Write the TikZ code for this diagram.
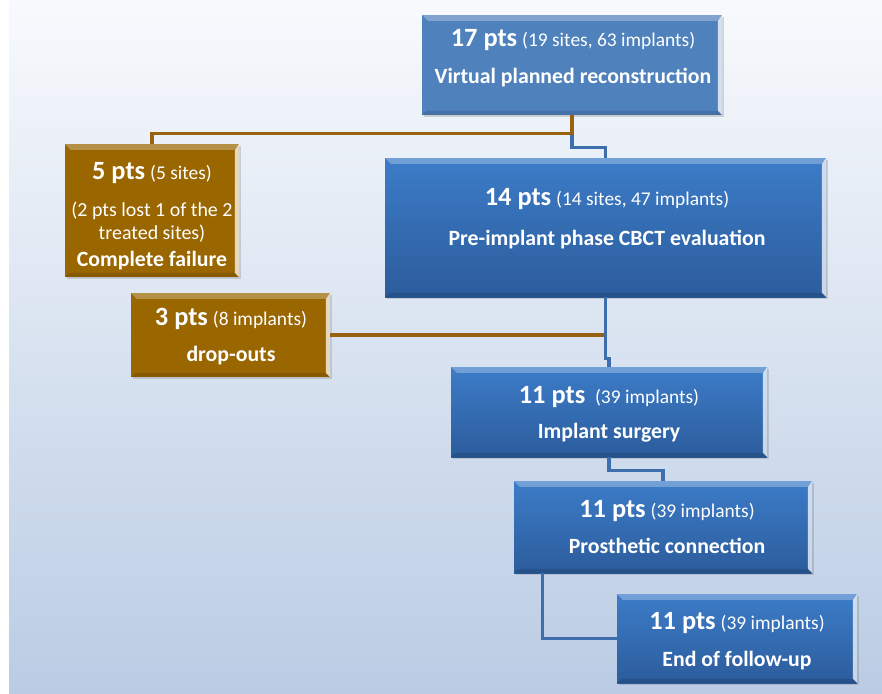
\documentclass[tikz,border=0pt]{standalone}
\usepackage{fontspec}
\setmainfont{Carlito}
\usepackage{tikz}
\usetikzlibrary{fit,calc,shadows,positioning}
\definecolor{bgtop}{RGB}{248,250,253}
\definecolor{bgbot}{RGB}{186,204,228}
\definecolor{topblue}{RGB}{79,129,189}
\definecolor{bluehi}{RGB}{60,124,200}
\definecolor{bluelo}{RGB}{44,92,156}
\definecolor{ochre}{RGB}{153,102,0}
\definecolor{ochreline}{RGB}{152,98,18}
\definecolor{linkblue}{RGB}{62,110,172}
\newcommand{\ptsnum}[1]{{\fontsize{22.5}{22}\selectfont #1 pts}}
\newcommand{\ptsinfo}[1]{{\mdseries\fontsize{16.6}{22}\selectfont (#1)}}
\newcommand{\lighttext}[1]{{\mdseries\fontsize{17}{22}\selectfont #1}}
\tikzset{bevel/.style={path picture={
  \fill[white,opacity=.28] (path picture bounding box.north west) -- (path picture bounding box.north east)
    -- ([shift={(-4pt,-5pt)}]path picture bounding box.north east) -- ([shift={(5pt,-5pt)}]path picture bounding box.north west) -- cycle;
  \fill[white,opacity=.75] (path picture bounding box.north east) -- (path picture bounding box.south east)
    -- ([shift={(-3.5pt,3.5pt)}]path picture bounding box.south east) -- ([shift={(-3.5pt,-5pt)}]path picture bounding box.north east) -- cycle;
  \fill[black,opacity=.12] (path picture bounding box.south west) -- (path picture bounding box.south east)
    -- ([shift={(-3.5pt,3.5pt)}]path picture bounding box.south east) -- ([shift={(4pt,3.5pt)}]path picture bounding box.south west) -- cycle;
}}}
\tikzstyle{box}=[inner sep=0, drop shadow={shadow xshift=1.5pt,shadow yshift=-1.5pt,opacity=.3}, bevel]
\tikzstyle{flatbox}=[box, fill=topblue]
\tikzstyle{bluebox}=[box, top color=bluehi, bottom color=bluelo]
\tikzstyle{brownbox}=[box, fill=ochre]
\tikzstyle{txt}=[align=center, text=white, inner sep=0, font=\fontsize{18.6}{22}\selectfont\bfseries]

\begin{document}
\begin{tikzpicture}[x=0.3mm, y=-0.3mm, link/.style={line width=2.9pt}, blink/.style={link, draw=linkblue}, olink/.style={link, draw=ochreline}]
  \useasboundingbox (0,0) rectangle (882,693);
  \fill[white] (0,0) rectangle (882,693);
  \fill[top color=bgtop, bottom color=bgbot] (9,0) rectangle (882,693);
  % boxes
  \node[flatbox, fit={(422,15) (722,115)}] (v) {};
  \node[brownbox, fit={(65,144) (239,277)}] (f) {};
  \node[bluebox, fit={(385,158) (826,297)}] (c) {};
  \node[brownbox, fit={(131,293) (330,377)}] (d) {};
  \node[bluebox, fit={(451,367) (767,457)}] (s) {};
  \node[bluebox, fit={(514,481) (812,573)}] (p) {};
  \node[bluebox, fit={(617,594) (857,683)}] (e) {};
  % texts
  \node[txt] (vt) at (573,58) {\ptsnum{17} \ptsinfo{19 sites, 63 implants}\\[9.6pt] Virtual planned reconstruction};
  \node[txt] (ft) at (152,216) {\ptsnum{5} \ptsinfo{5 sites}\\[9.6pt] \lighttext{(2 pts lost 1 of the 2}\\[-2.4pt] \lighttext{treated sites)}\\[1pt] Complete failure};
  \node[txt] (ct) at (607,219) {\ptsnum{14} \ptsinfo{14 sites, 47 implants}\\[12pt] Pre-implant phase CBCT evaluation};
  \node[txt] (dt) at (231,337) {\ptsnum{3} \ptsinfo{8 implants}\\[8.7pt] drop-outs};
  \node[txt] (st) at (609,414) {\ptsnum{11}~ \ptsinfo{39 implants}\\[8pt] Implant surgery};
  \node[txt] (pt) at (667,527) {\ptsnum{11} \ptsinfo{39 implants}\\[8.7pt] Prosthetic connection};
  \node[txt] (et) at (737,641) {\ptsnum{11} \ptsinfo{39 implants}\\[9.6pt] End of follow-up};
  % connectors
  \draw[blink] (v.south) -- ++(0,32) -| (c.north);
  \draw[olink] (v.south) -- ++(0,18) -| (f.north);
  \draw[olink] (d.east) -- (d.east -| c.south);
  \draw[blink] (c.south) -- ++(0,61) -| (s.north);
  \draw[blink] (s.south) -- ++(0,13) -| (p.north);
  \draw[blink] ($(p.south west)+(29,0)$) |- (e.west);
\end{tikzpicture}
\end{document}
